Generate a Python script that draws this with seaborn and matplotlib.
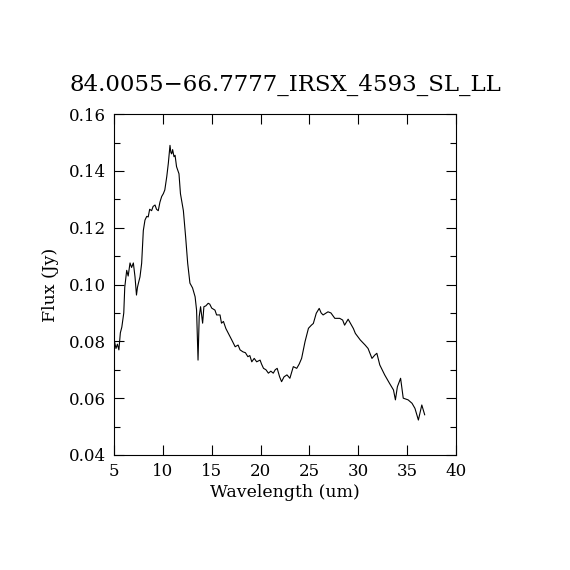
import numpy as np
import pandas as pd
import matplotlib
matplotlib.use("Agg")
import matplotlib.pyplot as plt
import seaborn as sns
from matplotlib.ticker import MultipleLocator

# Spectrum
wavelength = [5.05, 5.2, 5.35, 5.5, 5.65, 5.8, 6.0, 6.1, 6.3, 6.45, 6.64, 6.8, 6.98,
              7.15, 7.3, 7.4, 7.5, 7.66, 7.83, 8.0, 8.17, 8.35, 8.5, 8.65, 8.85,
              9.0, 9.2, 9.35, 9.53, 9.7, 9.88, 10.05, 10.2, 10.4, 10.56, 10.73,
              10.82, 10.9, 11.0, 11.14, 11.25, 11.4, 11.65, 11.8, 12.1, 12.33,
              12.54, 12.77, 13.04, 13.3, 13.45, 13.6, 13.72, 13.86, 14.07, 14.2,
              14.4, 14.64, 14.8, 15.0, 15.33, 15.5, 15.85, 16.0, 16.2, 16.45,
              16.7, 17.05, 17.2, 17.4, 17.7, 17.9, 18.2, 18.45, 18.7, 18.9, 19.1,
              19.35, 19.6, 19.95, 20.1, 20.3, 20.55, 20.8, 21.05, 21.3, 21.5,
              21.7, 21.95, 22.15, 22.4, 22.7, 23.0, 23.35, 23.7, 23.95, 24.2,
              24.55, 24.9, 25.2, 25.4, 25.7, 26.0, 26.2, 26.4, 26.9, 27.2, 27.6,
              28.1, 28.4, 28.6, 28.96, 29.2, 29.5, 29.7, 30.2, 30.7, 31.0, 31.4,
              31.7, 31.9, 32.2, 32.7, 33.2, 33.6, 33.8, 34.0, 34.33, 34.6, 35.1,
              35.5, 35.8, 36.15, 36.5, 36.8]
flux = [0.0800, 0.0775, 0.0790, 0.0770, 0.0830, 0.0850, 0.0900, 0.0990, 0.1050,
        0.1030, 0.1076, 0.1060, 0.1076, 0.1027, 0.0963, 0.0990, 0.1005, 0.1027,
        0.1075, 0.1190, 0.1227, 0.1240, 0.1238, 0.1265, 0.1260, 0.1275, 0.1280,
        0.1265, 0.1260, 0.1290, 0.1310, 0.1320, 0.1333, 0.1380, 0.1427, 0.1490,
        0.1465, 0.1460, 0.1475, 0.1450, 0.1455, 0.1415, 0.1390, 0.1320, 0.1260,
        0.1168, 0.1075, 0.1005, 0.0988, 0.0957, 0.0910, 0.0734, 0.0887, 0.0922,
        0.0864, 0.0922, 0.0925, 0.0934, 0.0931, 0.0917, 0.0910, 0.0893, 0.0893,
        0.0864, 0.0870, 0.0845, 0.0828, 0.0805, 0.0795, 0.0781, 0.0787, 0.0770,
        0.0763, 0.0760, 0.0746, 0.0750, 0.0728, 0.0740, 0.0728, 0.0734, 0.0720,
        0.0705, 0.0700, 0.0688, 0.0695, 0.0688, 0.0700, 0.0705, 0.0675, 0.0658,
        0.0675, 0.0682, 0.0670, 0.0711, 0.0705, 0.0720, 0.0740, 0.0799, 0.0846,
        0.0857, 0.0863, 0.0899, 0.0916, 0.0900, 0.0893, 0.0904, 0.0900, 0.0881,
        0.0881, 0.0875, 0.0857, 0.0878, 0.0863, 0.0845, 0.0828, 0.0805, 0.0787,
        0.0775, 0.0740, 0.0752, 0.0758, 0.0717, 0.0682, 0.0652, 0.0629, 0.0594,
        0.0640, 0.0670, 0.0600, 0.0594, 0.0582, 0.0564, 0.0523, 0.0576, 0.0541]

title = "84.0055\u221266.7777_IRSX_4593_SL_LL"

df = pd.DataFrame({"wavelength": wavelength, "flux": flux})

sns.set_style("ticks")
plt.rcParams["font.family"] = ["DejaVu Serif"]
plt.rcParams["text.color"] = "black"
plt.rcParams["axes.labelcolor"] = "black"

fig = plt.figure(figsize=(5.7, 5.7), dpi=100)
ax = fig.add_axes([0.2, 0.2018, 0.6, 0.598])

sns.lineplot(data=df, x="wavelength", y="flux", ax=ax, color="black",
             linewidth=0.8, estimator=None, sort=False)

ax.set_xlim(5, 40)
ax.set_ylim(0.04, 0.16)
ax.xaxis.set_major_locator(MultipleLocator(5))
ax.yaxis.set_major_locator(MultipleLocator(0.02))
ax.yaxis.set_minor_locator(MultipleLocator(0.01))
ax.yaxis.set_major_formatter(plt.FuncFormatter(lambda v, p: f"{v:.2f}"))
ax.tick_params(which="both", direction="in", top=True, right=True,
               labelsize=12, width=0.8, colors="black", pad=6)
ax.tick_params(which="major", length=7)
ax.tick_params(which="minor", length=4)
for s in ax.spines.values():
    s.set_linewidth(0.8)
    s.set_color("black")

ax.set_xlabel("Wavelength (um)", fontsize=12.5, labelpad=3)
ax.set_ylabel("Flux (Jy)", fontsize=12.5, labelpad=7)
ax.set_title(title, fontsize=16.5, pad=17)

fig.savefig("out.png", dpi=100, facecolor="white")
